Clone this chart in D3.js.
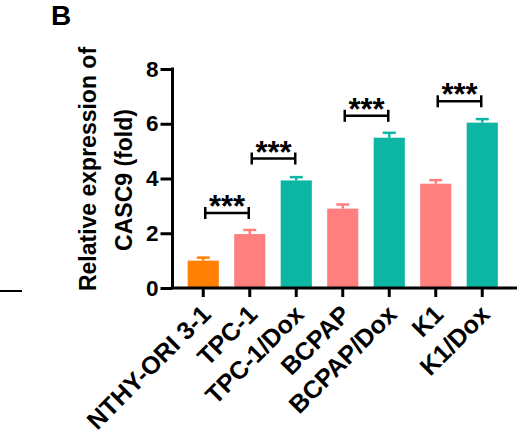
<!DOCTYPE html>
<html><head><meta charset="utf-8">
<script src="https://cdn.jsdelivr.net/npm/d3@7"></script>
<style>body{margin:0;background:#fff}svg{display:block;font-family:"Liberation Sans",Arial,sans-serif;font-weight:bold}</style>
</head><body><svg id="c" width="530" height="442"></svg>
<script>
const categories = ["NTHY-ORI 3-1","TPC-1","TPC-1/Dox","BCPAP","BCPAP/Dox","K1","K1/Dox"];
const values = [1.00, 1.97, 3.93, 2.90, 5.49, 3.81, 6.04];
const errors = [0.11, 0.15, 0.12, 0.15, 0.18, 0.13, 0.13];
const groupColors = ["#FF8005","#FF7F7F","#0DB5A3","#FF7F7F","#0DB5A3","#FF7F7F","#0DB5A3"];
const yTicks = [0, 2, 4, 6, 8];
const sigPairs = [[0,1],[1,2],[3,4],[5,6]];
const sigLevels = [2.74, 4.73, 6.29, 6.82];
const sigLabels = ["***","***","***","***"];
const yLabelLines = ["Relative expression of","CASC9 (fold)"];

const svg = d3.select("#c");
const FONT = '"Liberation Sans",Arial,sans-serif';
const axisX0 = 172.5, axisX1 = 517, y0 = 288, yTop = 69;
const x = d3.scaleBand().domain(categories).range([180, 505.5]).paddingInner(0.33).paddingOuter(0.165);
const y = d3.scaleLinear().domain([0, 8]).range([y0, yTop]);

// panel letter
svg.append("text").attr("x", 51).attr("y", 25).attr("font-size", 28).text("B");
// stray line at left
svg.append("line").attr("x1", 0).attr("x2", 22).attr("y1", 291).attr("y2", 291).attr("stroke", "#000").attr("stroke-width", 2);

// bars
svg.selectAll("rect.bar").data(categories).join("rect").attr("class","bar")
  .attr("x", d => x(d)).attr("width", x.bandwidth())
  .attr("y", (d,i) => y(values[i])).attr("height", (d,i) => y0 - y(values[i]))
  .attr("fill", (d,i) => groupColors[i]);

// error bars (upper)
const eb = svg.selectAll("g.eb").data(categories).join("g").attr("class","eb");
eb.append("line").attr("x1", d => x(d)+x.bandwidth()/2).attr("x2", d => x(d)+x.bandwidth()/2)
  .attr("y1", (d,i) => y(values[i])).attr("y2", (d,i) => y(values[i]+errors[i]))
  .attr("stroke", (d,i) => groupColors[i]).attr("stroke-width", 2.5);
eb.append("line").attr("x1", d => x(d)+x.bandwidth()/2-6.5).attr("x2", d => x(d)+x.bandwidth()/2+6.5)
  .attr("y1", (d,i) => y(values[i]+errors[i])).attr("y2", (d,i) => y(values[i]+errors[i]))
  .attr("stroke", (d,i) => groupColors[i]).attr("stroke-width", 2.5);

// y axis
const yAxis = svg.append("g").attr("transform", `translate(${axisX0},0)`)
  .call(d3.axisLeft(y).tickValues(yTicks).tickSize(12).tickPadding(2).tickFormat(d3.format("d")));
yAxis.select(".domain").attr("d", `M0,${yTop-1.5}V${y0}`).attr("stroke-width", 3);
yAxis.selectAll(".tick line").attr("stroke-width", 3);
yAxis.selectAll(".tick text").attr("font-size", 22.5).attr("font-weight","bold").attr("font-family",FONT).attr("fill","#000");

// x axis
const xAxis = svg.append("g").attr("transform", `translate(0,${y0})`)
  .call(d3.axisBottom(x).tickSize(9).tickPadding(6));
xAxis.select(".domain").attr("d", `M${axisX0-1.5},0H${axisX1}`).attr("stroke-width", 3);
xAxis.selectAll(".tick line").attr("stroke-width", 3);
xAxis.selectAll(".tick text").attr("font-size", 25).attr("font-weight","bold").attr("font-family",FONT).attr("fill","#000")
  .attr("text-anchor","end").attr("x", 0).attr("y", 0).attr("dy", 0)
  .attr("transform", "translate(9,28) rotate(-45)");

// y label
const yl = svg.append("text").attr("transform", `translate(88,169) rotate(-90)`).attr("text-anchor","middle").attr("font-size", 23);
yLabelLines.forEach((t,i) => yl.append("tspan").attr("x", i === 0 ? 0 : -11).attr("dy", i === 0 ? "0.35em" : "1.55em").text(t));

// significance brackets
sigPairs.forEach((p, k) => {
  const xa = x(categories[p[0]]) + x.bandwidth()/2 + 2;
  const xb = x(categories[p[1]]) + x.bandwidth()/2 - 1;
  const yy = y(sigLevels[k]);
  const g = svg.append("g").attr("stroke","#000").attr("stroke-width", 2.5);
  g.append("line").attr("x1", xa).attr("x2", xb).attr("y1", yy).attr("y2", yy);
  g.append("line").attr("x1", xa).attr("x2", xa).attr("y1", yy-6).attr("y2", yy+6);
  g.append("line").attr("x1", xb).attr("x2", xb).attr("y1", yy-6).attr("y2", yy+6);
  svg.append("text").attr("x", (xa+xb)/2).attr("y", yy + 4).attr("text-anchor","middle").attr("font-size", 31).text(sigLabels[k]);
});
</script></body></html>
